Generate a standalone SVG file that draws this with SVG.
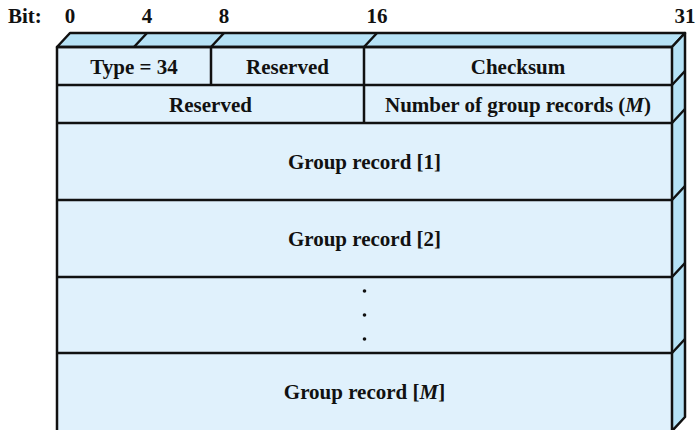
<svg xmlns="http://www.w3.org/2000/svg" width="699" height="430" viewBox="0 0 699 430">
<style>
.t{font-family:"Liberation Serif","Times New Roman",serif;font-weight:bold;font-size:21px;fill:#111;text-anchor:middle}
.ln{stroke:#111;stroke-width:2.5;fill:none;stroke-linejoin:round}
.front{fill:#e0f1fc}
.side{fill:#b6e2f6;stroke:#111;stroke-width:2.5;stroke-linejoin:round}
</style>
<rect width="699" height="430" fill="#fff"/>
<g id="bit-labels">
<text class="t" x="8" y="23" style="text-anchor:start">Bit:</text>
<text class="t" x="70" y="23">0</text>
<text class="t" x="147" y="23">4</text>
<text class="t" x="224" y="23">8</text>
<text class="t" x="377" y="23">16</text>
<text class="t" x="685" y="23">31</text>
</g>
<g id="box">
<rect class="front" x="57" y="47" width="615" height="384"/>
<polygon class="side" points="57,47 70,33 685,33 672,47"/>
<polygon class="side" points="672,47 685,33 685,417 672,431"/>
<path class="ln" d="M57,431 V47 H672 M57,85 H672 M57,123 H672 M57,200 H672 M57,277 H672 M57,353 H672"/>
<path class="ln" d="M211,47 V85 M364,47 V123"/>
<path class="ln" d="M134,47 L147,33 M211,47 L224,33 M364,47 L377,33"/>
<path class="ln" d="M672,85 L685,71 M672,123 L685,109 M672,200 L685,186 M672,277 L685,263 M672,353 L685,339"/>
</g>
<g id="row1">
<text class="t" x="134" y="74">Type = 34</text>
<text class="t" x="287.5" y="74">Reserved</text>
<text class="t" x="518" y="74">Checksum</text>
</g>
<g id="row2">
<text class="t" x="210.5" y="112">Reserved</text>
<text class="t" x="518" y="112">Number of group records (<tspan font-style="italic">M</tspan>)</text>
</g>
<g id="group1"><text class="t" x="364.5" y="169">Group record [1]</text></g>
<g id="group2"><text class="t" x="364.5" y="246">Group record [2]</text></g>
<g id="dots" fill="#111">
<circle cx="364.5" cy="291" r="1.8"/>
<circle cx="364.5" cy="315" r="1.8"/>
<circle cx="364.5" cy="339" r="1.8"/>
</g>
<g id="groupM"><text class="t" x="364.5" y="399">Group record [<tspan font-style="italic">M</tspan>]</text></g>
</svg>
